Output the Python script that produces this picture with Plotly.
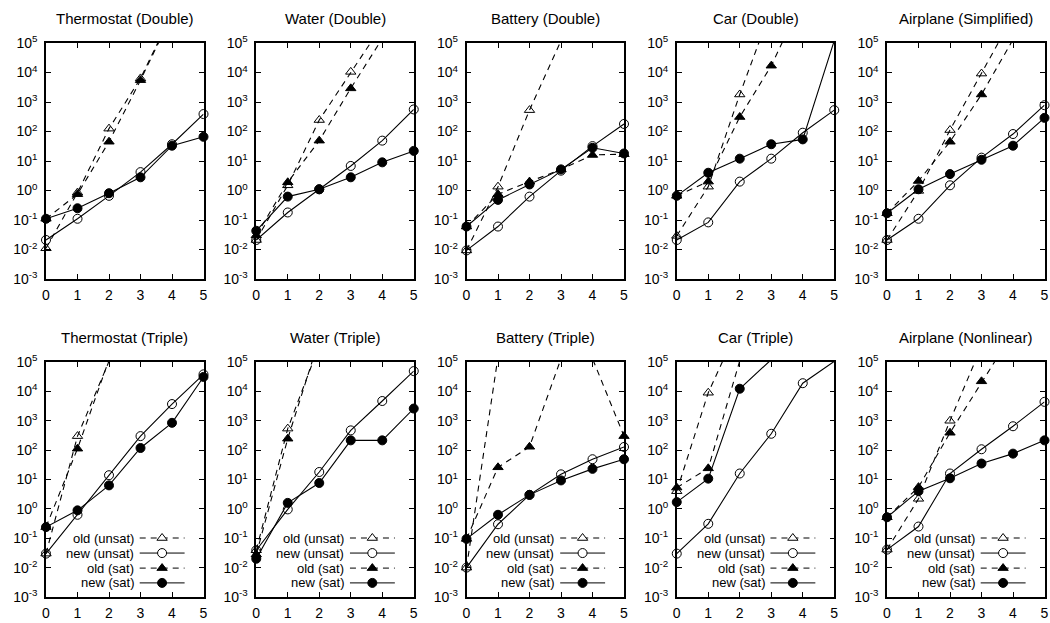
import plotly.graph_objects as go

W, H = 1050, 623
FONT = "Liberation Sans, Arial, Helvetica, sans-serif"

# ---------------- data ----------------
x_vals = [0, 1, 2, 3, 4, 5]

titles = ["Thermostat (Double)", "Water (Double)", "Battery (Double)", "Car (Double)",
          "Airplane (Simplified)",
          "Thermostat (Triple)", "Water (Triple)", "Battery (Triple)", "Car (Triple)",
          "Airplane (Nonlinear)"]

series_names = ["old (unsat)", "new (unsat)", "old (sat)", "new (sat)"]

# one row per panel (same order as titles); None = no measurement
old_unsat = [
    [0.011, 0.85, 125, 6300, 1.0e6, None],
    [0.021, 1.5, 245, 10500, 4.0e5, None],
    [0.0093, 1.35, 530, 1.2e5, None, None],
    [0.029, 1.35, 1800, 1.4e6, None, None],
    [0.021, 0.97, 112, 9200, 8.0e5, None],
    [0.03, 300, 1.05e5, None, None, None],
    [0.039, 540, 3.7e5, None, None, None],
    [0.01, 1.5e5, None, None, None, None],
    [4.0, 9000, 2.0e6, None, None, None],
    [0.041, 2.2, 1000, 3.4e5, None, None],
]
new_unsat = [
    [0.021, 0.11, 0.66, 4.2, 37, 390],
    [0.021, 0.18, 1.1, 6.8, 49, 560],
    [0.0093, 0.06, 0.62, 4.7, 32, 180],
    [0.021, 0.083, 2.0, 12, 91, 530],
    [0.021, 0.11, 1.5, 13, 82, 780],
    [0.03, 0.63, 14, 300, 3700, 38000],
    [0.039, 0.96, 18, 470, 4700, 49000],
    [0.01, 0.3, 3.0, 15, 49, 128],
    [0.03, 0.31, 16, 360, 19000, 1.05e5],
    [0.041, 0.25, 16, 107, 650, 4400],
]
old_sat = [
    [0.11, 0.75, 45, 5500, 9.0e5, None],
    [0.03, 1.9, 49, 2900, 1.4e5, None],
    [0.06, 0.75, 2.0, 5.2, 16, 17],
    [0.66, 2.0, 310, 17000, 3.0e6, None],
    [0.17, 2.1, 45, 1800, 1.3e5, None],
    [0.24, 112, 1.2e5, None, None, None],
    [0.028, 245, 6.0e5, None, None, None],
    [0.095, 26, 130, 1.3e5, 1.3e5, 300],
    [5.3, 24, 1.1e5, None, None, None],
    [0.52, 5.5, 390, 22000, 1.0e6, None],
]
new_sat = [
    [0.11, 0.25, 0.81, 2.8, 33, 66],
    [0.043, 0.62, 1.1, 2.8, 9.0, 22],
    [0.06, 0.48, 1.6, 5.2, 28, 18],
    [0.66, 4.0, 12, 37, 54, 1.2e5],
    [0.17, 1.1, 3.6, 11, 33, 290],
    [0.24, 0.89, 6.3, 118, 850, 31000],
    [0.02, 1.6, 7.6, 215, 215, 2600],
    [0.095, 0.63, 3.0, 9.3, 23, 49],
    [1.7, 10.7, 12300, 1.2e5, None, None],
    [0.52, 4.0, 11, 35, 76, 215],
]

y_tick_exp = [-3, -2, -1, 0, 1, 2, 3, 4, 5]
x_tick_vals = [0, 1, 2, 3, 4, 5]

# ---------------- styling ----------------
DASH = "6px,5px"
styles = [
    dict(dash=DASH, symbol="triangle-up-open"),
    dict(dash="solid", symbol="circle-open"),
    dict(dash=DASH, symbol="triangle-up"),
    dict(dash="solid", symbol="circle"),
]
all_series = [old_unsat, new_unsat, old_sat, new_sat]

# panel geometry in pixels
col_left = [46 + 210.25 * c for c in range(5)]
col_w = 157.5
row_top = [43, 362]
row_bot = [279, 597]

fig = go.Figure()
annotations = []
shapes = []

for p in range(10):
    r, c = divmod(p, 5)
    ax = p + 1
    xname = "x" if ax == 1 else f"x{ax}"
    yname = "y" if ax == 1 else f"y{ax}"
    for s in range(4):
        st = styles[s]
        fig.add_trace(go.Scatter(
            x=x_vals, y=all_series[s][p], xaxis=xname, yaxis=yname,
            mode="lines+markers", name=series_names[s], showlegend=False,
            cliponaxis=False,
            line=dict(color="black", width=1.1, dash=st["dash"]),
            marker=dict(symbol=st["symbol"], size=9, color="black",
                        line=dict(color="black", width=1)),
        ))
    L = col_left[c]
    R = L + col_w
    dom_x = [L / W, R / W]
    dom_y = [1 - row_bot[r] / H, 1 - row_top[r] / H]
    common = dict(showline=True, linecolor="black", linewidth=1.5, mirror="allticks",
                  ticks="inside", ticklen=5, tickwidth=1, tickcolor="black",
                  showgrid=False, zeroline=False, automargin=False,
                  tickfont=dict(family=FONT, size=14, color="black"),
                  layer="below traces")
    fig.layout[f"xaxis{ax}"] = dict(domain=dom_x, anchor=yname, range=[0, 5],
                                    tickvals=x_tick_vals, ticktext=[str(v) for v in x_tick_vals],
                                    ticklabelstandoff=2, **common)
    fig.layout[f"yaxis{ax}"] = dict(domain=dom_y, anchor=xname, type="log", range=[-3, 5],
                                    tickvals=[10.0 ** e for e in y_tick_exp],
                                    ticktext=[f"10<sup>{e}</sup>" for e in y_tick_exp],
                                    ticklabelstandoff=4, **common)
    # panel title
    annotations.append(dict(text=titles[p], xref="paper", yref="paper",
                            x=(L + R) / 2 / W, y=1 - (18 if r == 0 else 337) / H,
                            xanchor="center", yanchor="middle", showarrow=False,
                            font=dict(family=FONT, size=15, color="black")))
    # gnuplot-style key (text, then sample) in bottom row
    if r == 1:
        xr = f"x{ax} domain"
        yr = f"y{ax} domain"
        rows = [0.251, 0.187, 0.123, 0.060]
        for s in range(4):
            yy = rows[s]
            annotations.append(dict(text=series_names[s], xref=xr, yref=yr, x=0.565, y=yy,
                                    xanchor="right", yanchor="middle", showarrow=False,
                                    borderpad=0,
                                    font=dict(family=FONT, size=13, color="black")))
            shapes.append(dict(type="line", xref=xr, yref=yr, x0=0.595, x1=0.88, y0=yy, y1=yy,
                               line=dict(color="black", width=1,
                                         dash=styles[s]["dash"])))
            sym = styles[s]["symbol"]
            filled = not sym.endswith("open")
            fill = "black" if filled else "white"
            if sym.startswith("circle"):
                shapes.append(dict(type="circle", xref=xr, yref=yr, xsizemode="pixel",
                                   ysizemode="pixel", xanchor=0.737, yanchor=yy,
                                   x0=-4.5, x1=4.5, y0=-4.5, y1=4.5,
                                   fillcolor=fill, line=dict(color="black", width=1)))
            else:
                shapes.append(dict(type="path", xref=xr, yref=yr, xsizemode="pixel",
                                   ysizemode="pixel", xanchor=0.737, yanchor=yy,
                                   path="M-5.2,-2.25 L5.2,-2.25 L0,4.5 Z",
                                   fillcolor=fill, line=dict(color="black", width=1)))

fig.update_layout(width=W, height=H, margin=dict(l=0, r=0, t=0, b=0),
                  paper_bgcolor="white", plot_bgcolor="white",
                  showlegend=False, annotations=annotations, shapes=shapes,
                  font=dict(family=FONT, color="black"))

fig.write_html("out.html", config={"displayModeBar": False},
               post_script="document.body.style.margin='0';")
